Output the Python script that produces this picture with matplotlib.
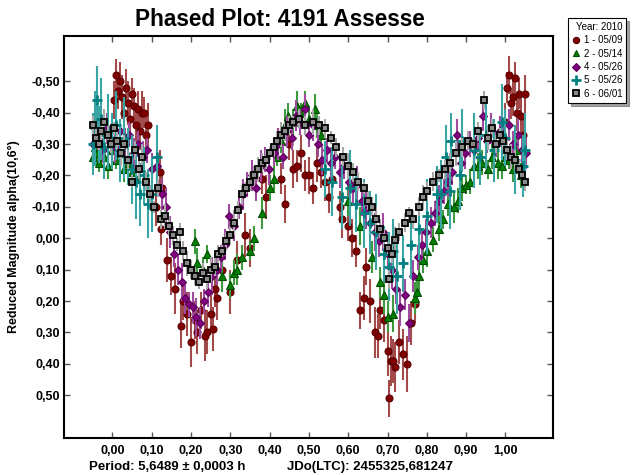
import matplotlib
matplotlib.use("Agg")
import matplotlib.pyplot as plt
from matplotlib.lines import Line2D
from matplotlib.ticker import FixedLocator, FuncFormatter

plt.rcParams['font.family'] = ['Liberation Sans', 'DejaVu Sans']

# ---------------- data ----------------
labels = ["1 - 05/09", "2 - 05/14", "4 - 05/26", "5 - 05/26", "6 - 06/01"]
legend_title = "Year: 2010"

phase_1 = [0.005, 0.010, 0.015, 0.020, 0.025, 0.030, 0.035, 0.040, 0.045, 0.050, 0.055, 0.060, 0.065, 0.070, 0.075, 0.080, 0.085, 0.090,
           0.110, 0.120, 0.124, 0.127,
           0.140, 0.150, 0.160, 0.175, 0.180, 0.190, 0.200, 0.210, 0.215, 0.225, 0.235, 0.240, 0.250, 0.255, 0.260, 0.265, 0.280, 0.300,
           0.317, 0.338, 0.350, 0.380, 0.390,
           0.430, 0.440, 0.450, 0.460, 0.470, 0.480, 0.490, 0.500, 0.510, 0.520, 0.530, 0.540, 0.550, 0.560, 0.580, 0.585, 0.600, 0.610, 0.620,
           0.630, 0.640, 0.645, 0.656, 0.667, 0.677, 0.680, 0.690, 0.700, 0.705, 0.710, 0.715, 0.720, 0.730, 0.740, 0.750, 0.760, 0.770,
           1.000, 1.005, 1.010, 1.015, 1.020, 1.025, 1.030, 1.035, 1.040, 1.045, 1.050]
mag_1 = [-0.44, -0.52, -0.47, -0.50, -0.45, -0.40, -0.48, -0.43, -0.38, -0.46, -0.42, -0.36, -0.41, -0.34, -0.40, -0.40, -0.33, -0.36,
         -0.10, -0.21, -0.03, -0.16,
         0.07, 0.12, 0.16, 0.28, 0.20, 0.24, 0.33, 0.26, 0.30, 0.23, 0.31, 0.30, 0.24, 0.29, 0.16, 0.19, 0.10, 0.17,
         0.07, -0.01, 0.03, -0.19, -0.13,
         -0.19, -0.11, -0.30, -0.22, -0.23, -0.27, -0.20, -0.20, -0.16, -0.24, -0.21, -0.18, -0.13, -0.19, -0.10, -0.06, -0.04, 0.00, 0.04,
         0.23, 0.19, 0.09, 0.20, 0.30, 0.31, 0.23, 0.26, 0.36, 0.51, 0.39, 0.39, 0.41, 0.33, 0.37, 0.40, 0.27, 0.21,
         -0.37, -0.48, -0.52, -0.43, -0.45, -0.51, -0.40, -0.46, -0.39, -0.33, -0.46]
err_1 = [0.06, 0.05, 0.06, 0.06, 0.07, 0.06, 0.06, 0.07, 0.06, 0.05, 0.06, 0.07, 0.06, 0.06, 0.07, 0.05, 0.06, 0.07,
         0.06, 0.07, 0.05, 0.06,
         0.07, 0.06, 0.08, 0.07, 0.06, 0.07, 0.08, 0.06, 0.07, 0.06, 0.08, 0.07, 0.06, 0.07, 0.06, 0.07, 0.06, 0.07,
         0.06, 0.07, 0.06, 0.05, 0.07,
         0.05, 0.06, 0.05, 0.06, 0.05, 0.06, 0.05, 0.06, 0.05, 0.06, 0.05, 0.06, 0.05, 0.06, 0.05, 0.06, 0.05, 0.06, 0.05,
         0.06, 0.07, 0.06, 0.07, 0.08, 0.07, 0.06, 0.07, 0.08, 0.06, 0.08, 0.07, 0.08, 0.07, 0.08, 0.09, 0.07, 0.06,
         0.06, 0.05, 0.06, 0.05, 0.06, 0.05, 0.06, 0.05, 0.06, 0.05, 0.06]

phase_2 = [-0.050, -0.045, -0.040, -0.035, -0.030, -0.020, -0.010, 0.000, 0.010, 0.020, 0.030, 0.040, 0.050, 0.060,
           0.210, 0.215, 0.230, 0.240, 0.260, 0.280, 0.300, 0.310, 0.317, 0.330, 0.350, 0.360, 0.380, 0.400, 0.410, 0.420, 0.430,
           0.440, 0.447, 0.460, 0.470, 0.480, 0.490, 0.500, 0.515, 0.520, 0.530,
           0.600, 0.630, 0.660, 0.680, 0.690, 0.700, 0.715, 0.770, 0.775, 0.780,
           0.790, 0.800, 0.815, 0.830, 0.840, 0.855, 0.870, 0.880, 0.890, 0.900, 0.910, 0.920, 0.930, 0.940, 0.955, 0.965, 0.980,
           0.990, 1.000, 1.010, 1.020, 1.030, 1.040, 1.045]
mag_2 = [-0.26, -0.29, -0.27, -0.24, -0.30, -0.26, -0.23, -0.28, -0.25, -0.27, -0.22, -0.24, -0.21, -0.19,
         0.01, 0.08, 0.10, 0.05, 0.09, 0.12, 0.15, 0.11, 0.10, 0.06, 0.04, 0.00, -0.08, -0.16, -0.19, -0.26, -0.31,
         -0.36, -0.39, -0.37, -0.42, -0.40, -0.43, -0.38, -0.41, -0.36, -0.33,
         -0.12, -0.04, 0.06, 0.14, 0.18, 0.25, 0.24, 0.19, 0.17, 0.12,
         0.07, 0.04, 0.005, -0.03, -0.06, -0.11, -0.10, -0.12, -0.16, -0.17, -0.18, -0.23, -0.23, -0.24, -0.22, -0.26, -0.24,
         -0.23, -0.26, -0.25, -0.22, -0.28, -0.20, -0.24]
err_2 = [0.04, 0.05, 0.04, 0.03, 0.04, 0.05, 0.04, 0.04, 0.03, 0.05, 0.04, 0.04, 0.05, 0.04,
         0.04, 0.05, 0.04, 0.03, 0.04, 0.05, 0.04, 0.04, 0.05, 0.04, 0.03, 0.04, 0.05, 0.04, 0.04, 0.03, 0.04,
         0.05, 0.04, 0.04, 0.05, 0.03, 0.04, 0.04, 0.05, 0.04, 0.04,
         0.05, 0.06, 0.05, 0.05, 0.06, 0.05, 0.06, 0.05, 0.04, 0.05,
         0.04, 0.05, 0.04, 0.04, 0.03, 0.04, 0.05, 0.04, 0.04, 0.03, 0.04, 0.05, 0.04, 0.04, 0.03, 0.04, 0.05,
         0.04, 0.04, 0.03, 0.04, 0.05, 0.04, 0.04]

phase_4 = [-0.048, -0.036, -0.025, -0.013, -0.004, 0.008, 0.019, 0.031, 0.042, 0.055, 0.066, 0.078, 0.089, 0.101, 0.114,
           0.126, 0.137, 0.146, 0.157, 0.166, 0.177, 0.186, 0.195, 0.204, 0.213, 0.222, 0.233, 0.244, 0.254, 0.265,
           0.276, 0.287, 0.298, 0.309, 0.321, 0.332, 0.343, 0.354, 0.366, 0.377, 0.388, 0.399, 0.411, 0.422, 0.433,
           0.444, 0.456, 0.467, 0.478, 0.489, 0.500, 0.511, 0.523, 0.534, 0.545, 0.556, 0.567, 0.578, 0.589, 0.601,
           0.612, 0.623, 0.634, 0.645, 0.656, 0.667, 0.678, 0.689, 0.700, 0.711, 0.722, 0.733, 0.744, 0.755, 0.766,
           0.777, 0.788, 0.799, 0.810, 0.821, 0.832, 0.843, 0.854, 0.865, 0.876, 0.887, 0.898, 0.909, 0.920, 0.931,
           0.942, 0.953, 0.964, 0.975, 0.986, 0.997, 1.008, 1.019, 1.031, 1.042, 1.052]
mag_4 = [-0.30, -0.33, -0.28, -0.35, -0.31, -0.29, -0.34, -0.30, -0.33, -0.27, -0.30, -0.26, -0.28, -0.22, -0.23,
         -0.14, -0.10, -0.02, 0.05, 0.10, 0.14, 0.19, 0.21, 0.22, 0.25, 0.27, 0.20, 0.17, 0.12, 0.10,
         0.06, 0.02, -0.07, -0.04, -0.10, -0.14, -0.17, -0.20, -0.16, -0.23, -0.25, -0.22, -0.27, -0.30, -0.26,
         -0.34, -0.32, -0.39, -0.37, -0.41, -0.33, -0.36, -0.30, -0.25, -0.28, -0.24, -0.26, -0.21, -0.23, -0.18,
         -0.16, -0.17, -0.12, -0.09, -0.05, -0.02, 0.01, -0.02, 0.05, 0.10, 0.16, 0.22, 0.18, 0.27, 0.12,
         0.06, 0.02, -0.02, -0.05, -0.08, -0.12, -0.15, -0.18, -0.21, -0.33, -0.24, -0.27, -0.30, -0.28, -0.32,
         -0.39, -0.31, -0.35, -0.30, -0.34, -0.32, -0.36, -0.30, -0.33, -0.28, -0.27]
err_4 = [0.04, 0.05, 0.04, 0.05, 0.04, 0.05, 0.04, 0.05, 0.04, 0.05, 0.04, 0.05, 0.04, 0.05, 0.04,
         0.05, 0.06, 0.05, 0.04, 0.05, 0.06, 0.05, 0.04, 0.05, 0.06, 0.05, 0.04, 0.05, 0.06, 0.05,
         0.04, 0.05, 0.04, 0.05, 0.04, 0.05, 0.04, 0.05, 0.04, 0.05, 0.04, 0.05, 0.04, 0.05, 0.04,
         0.05, 0.04, 0.05, 0.04, 0.05, 0.04, 0.05, 0.04, 0.05, 0.04, 0.05, 0.04, 0.05, 0.04, 0.05,
         0.05, 0.06, 0.05, 0.06, 0.05, 0.06, 0.05, 0.06, 0.05, 0.06, 0.05, 0.06, 0.05, 0.06, 0.05,
         0.04, 0.05, 0.04, 0.05, 0.04, 0.05, 0.04, 0.05, 0.04, 0.05, 0.04, 0.05, 0.04, 0.05, 0.04,
         0.05, 0.04, 0.05, 0.04, 0.05, 0.04, 0.05, 0.04, 0.05, 0.04, 0.05]

phase_5 = [-0.050, -0.045, -0.040, -0.035, -0.030, -0.020, -0.010, 0.000, 0.010, 0.020, 0.030, 0.040, 0.050, 0.060,
           0.070, 0.080, 0.090, 0.100, 0.114,
           0.540, 0.560, 0.585, 0.605, 0.620, 0.640, 0.655, 0.670, 0.690, 0.705, 0.715, 0.725, 0.740, 0.760, 0.780,
           0.800, 0.825, 0.835, 0.850, 0.860, 0.862, 0.885, 0.890, 0.920, 0.935, 0.950, 0.970, 0.990, 1.000, 1.025,
           1.045, 1.050]
mag_5 = [-0.30, -0.35, -0.44, -0.33, -0.38, -0.29, -0.34, -0.31, -0.36, -0.28, -0.32, -0.26, -0.22, -0.18,
         -0.14, -0.20, -0.11, -0.14, -0.26,
         -0.22, -0.18, -0.13, -0.16, -0.11, -0.08, -0.05, -0.02, 0.05, 0.09, 0.04, 0.12, 0.08, 0.02, -0.03,
         -0.07, -0.14, -0.14, -0.26, -0.15, -0.31, -0.20, -0.31, -0.28, -0.26, -0.33, -0.28, -0.37, -0.32, -0.25,
         -0.23, -0.28]
err_5 = [0.10, 0.12, 0.11, 0.09, 0.13, 0.10, 0.12, 0.09, 0.11, 0.10, 0.13, 0.09, 0.11, 0.12,
         0.10, 0.09, 0.11, 0.12, 0.10,
         0.09, 0.11, 0.10, 0.12, 0.09, 0.11, 0.10, 0.12, 0.09, 0.11, 0.10, 0.12, 0.09, 0.11, 0.10,
         0.12, 0.09, 0.11, 0.10, 0.12, 0.09, 0.11, 0.10, 0.12, 0.09, 0.11, 0.10, 0.12, 0.09, 0.11,
         0.10, 0.12]

phase_6 = [-0.050, -0.042, -0.035, -0.028, -0.020, -0.012, -0.004, 0.005, 0.013, 0.022, 0.030, 0.040, 0.050, 0.058,
           0.067, 0.076, 0.085, 0.095, 0.105, 0.115, 0.124, 0.135, 0.145, 0.155, 0.165, 0.172, 0.180, 0.190,
           0.200, 0.210, 0.220, 0.230, 0.240, 0.250, 0.260, 0.270, 0.280, 0.290, 0.300, 0.310, 0.320, 0.330,
           0.340, 0.350, 0.360, 0.370, 0.380, 0.390, 0.400, 0.410, 0.420, 0.430, 0.440, 0.450, 0.460, 0.475,
           0.490, 0.510, 0.525, 0.540, 0.555, 0.570, 0.586, 0.600, 0.612, 0.625, 0.640, 0.650, 0.660, 0.670,
           0.680, 0.690, 0.700, 0.705, 0.712, 0.720, 0.730, 0.745, 0.755, 0.765, 0.780, 0.790, 0.800, 0.815,
           0.830, 0.845, 0.860, 0.875, 0.890, 0.905, 0.918, 0.930, 0.945, 0.955, 0.965, 0.975, 0.985, 0.995,
           1.005, 1.015, 1.025, 1.035, 1.043, 1.050]
mag_6 = [-0.36, -0.32, -0.30, -0.34, -0.37, -0.33, -0.30, -0.35, -0.31, -0.27, -0.30, -0.25, -0.18, -0.28,
         -0.22, -0.26, -0.18, -0.14, -0.10, -0.16, -0.06, -0.07, -0.04, -0.01, 0.02, -0.02, 0.04, 0.08,
         0.10, 0.12, 0.14, 0.11, 0.13, 0.10, 0.09, 0.05, 0.04, 0.01, -0.01, -0.05, -0.09, -0.14,
         -0.16, -0.18, -0.20, -0.22, -0.24, -0.25, -0.27, -0.29, -0.31, -0.33, -0.34, -0.36, -0.37, -0.38,
         -0.36, -0.37, -0.36, -0.35, -0.32, -0.29, -0.26, -0.23, -0.21, -0.18, -0.16, -0.12, -0.10, -0.06,
         -0.03, 0.00, 0.03, 0.13, 0.05, 0.005, -0.02, -0.05, -0.08, -0.06, -0.10, -0.13, -0.15, -0.18,
         -0.20, -0.22, -0.24, -0.27, -0.29, -0.31, -0.30, -0.34, -0.44, -0.32, -0.35, -0.30, -0.33, -0.31,
         -0.28, -0.26, -0.25, -0.22, -0.20, -0.18]
err_6 = [0.03, 0.03, 0.02, 0.03, 0.04, 0.03, 0.03, 0.02, 0.03, 0.04, 0.03, 0.03, 0.02, 0.03,
         0.03, 0.04, 0.03, 0.03, 0.02, 0.03, 0.03, 0.04, 0.03, 0.03, 0.02, 0.03, 0.03, 0.04,
         0.03, 0.03, 0.02, 0.03, 0.03, 0.04, 0.03, 0.03, 0.02, 0.03, 0.03, 0.04, 0.03, 0.03,
         0.02, 0.03, 0.03, 0.04, 0.03, 0.03, 0.02, 0.03, 0.03, 0.04, 0.03, 0.03, 0.02, 0.03,
         0.03, 0.04, 0.03, 0.03, 0.02, 0.03, 0.03, 0.04, 0.03, 0.03, 0.02, 0.03, 0.03, 0.04,
         0.03, 0.03, 0.02, 0.03, 0.03, 0.04, 0.03, 0.03, 0.02, 0.03, 0.03, 0.04, 0.03, 0.03,
         0.02, 0.03, 0.03, 0.04, 0.03, 0.03, 0.02, 0.03, 0.03, 0.04, 0.03, 0.03, 0.02, 0.03,
         0.03, 0.04, 0.03, 0.03, 0.02, 0.03]

x_ticks = [0.0, 0.1, 0.2, 0.3, 0.4, 0.5, 0.6, 0.7, 0.8, 0.9, 1.0]
y_ticks = [-0.5, -0.4, -0.3, -0.2, -0.1, 0.0, 0.1, 0.2, 0.3, 0.4, 0.5]

title_text = "Phased Plot: 4191 Assesse"
period_text = "Period: 5,6489 \u00b1 0,0003 h"
jdo_text = "JDo(LTC): 2455325,681247"
ylabel_text = "Reduced Magnitude alpha(10,6\u00b0)"

# ---------------- styles ----------------
styles = [
    dict(marker='o', mfc='#800000', mec='#5a0000', ms=5, mew=0.8, ecolor='#a34a4a'),
    dict(marker='^', mfc='#008000', mec='#004d00', ms=5.5, mew=0.8, ecolor='#3f9a3f'),
    dict(marker='D', mfc='#800080', mec='#5a005a', ms=4.2, mew=0.8, ecolor='#a04aa0'),
    dict(marker='+', mfc='#008080', mec='#008080', ms=7.5, mew=2.0, ecolor='#3aa5a5'),
    dict(marker='s', mfc='#8a8a8a', mec='#000000', ms=4.9, mew=1.3, ecolor='#a8a8a8'),
]
series = [(phase_1, mag_1, err_1), (phase_2, mag_2, err_2), (phase_4, mag_4, err_4),
          (phase_5, mag_5, err_5), (phase_6, mag_6, err_6)]

fig = plt.figure(figsize=(6.39, 4.75), dpi=100)
ax = fig.add_axes([64/639, 1-438/475, (553-64)/639, (438-36)/475])

for i, ((ph, mg, er), st) in enumerate(zip(series, styles)):
    ax.errorbar(ph, mg, yerr=er, fmt='none', ecolor=st['ecolor'], elinewidth=1.5, capsize=0, zorder=2 + i)
    ax.plot(ph, mg, linestyle='none', marker=st['marker'], mfc=st['mfc'], mec=st['mec'],
            ms=st['ms'], mew=st['mew'], zorder=2.5 + i)

ax.set_xlim(-0.123, 1.121)
ax.set_ylim(0.636, -0.644)
ax.xaxis.set_major_locator(FixedLocator(x_ticks))
ax.yaxis.set_major_locator(FixedLocator(y_ticks))
fmt = FuncFormatter(lambda v, p: ("%.2f" % v).replace('.', ',').replace('-0,00', '0,00'))
ax.xaxis.set_major_formatter(fmt)
ax.yaxis.set_major_formatter(fmt)
ax.tick_params(axis='both', direction='in', length=4.5, width=1.0, color='#555555',
               top=True, right=True, labelsize=9)
ax.tick_params(axis='x', pad=5)
ax.tick_params(axis='y', pad=3)
for lab in ax.get_xticklabels() + ax.get_yticklabels():
    lab.set_fontweight('bold')
for sp in ax.spines.values():
    sp.set_linewidth(1.5)
    sp.set_color('black')

ax.set_ylabel(ylabel_text, fontsize=9, fontweight='bold', labelpad=8)

fig.text(280/639, 1-20/475, title_text, ha='center', va='center', fontsize=16.3, fontweight='bold')
fig.text(89/639, 1-467/475, period_text, ha='left', va='center', fontsize=9.5, fontweight='bold')
fig.text(287/639, 1-467/475, jdo_text, ha='left', va='center', fontsize=9.5, fontweight='bold')

handles = [Line2D([], [], linestyle='none', marker=st['marker'], mfc=st['mfc'], mec=st['mec'],
                  ms=st['ms'] * 0.9, mew=st['mew']) for st in styles]
leg = fig.legend(handles, labels, loc='upper left', bbox_to_anchor=(568/639, 1-18/475),
                 frameon=True, fancybox=False, shadow=True, edgecolor='black', fontsize=7,
                 title=legend_title, title_fontsize=7, handlelength=0.8, handletextpad=0.4,
                 borderpad=0.4, labelspacing=0.35, alignment='right', borderaxespad=0)
leg.get_frame().set_linewidth(0.8)

fig.savefig('out.png', dpi=100)
